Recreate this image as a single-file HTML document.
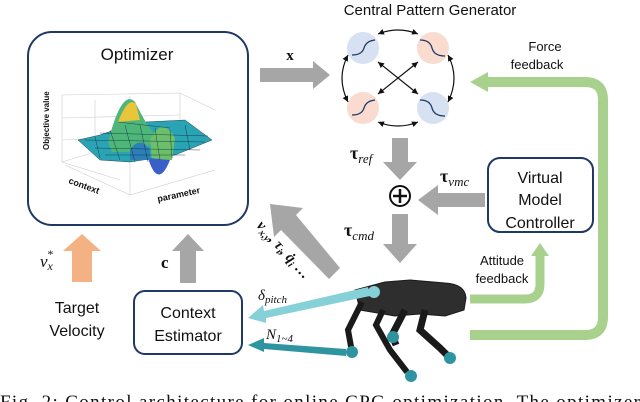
<!DOCTYPE html>
<html><head><meta charset="utf-8"><style>
html,body{margin:0;padding:0;background:#fff;}
svg{display:block;}
.s{font-family:"Liberation Sans","DejaVu Sans",sans-serif;fill:#111;}
.m{font-family:"Liberation Serif",serif;font-style:italic;fill:#111;}
.b{font-family:"Liberation Serif",serif;font-weight:bold;fill:#111;}
</style></head><body>
<svg width="640" height="402" viewBox="0 0 640 402" xmlns="http://www.w3.org/2000/svg">
<defs>
<marker id="ah" markerWidth="8" markerHeight="8" refX="6" refY="3" orient="auto-start-reverse" markerUnits="userSpaceOnUse"><path d="M0,0 L6,3 L0,6 z" fill="#111"/></marker>
</defs>
<!-- Optimizer box -->
<rect x="28" y="32" width="220" height="193" rx="24" fill="#fff" stroke="#1f3864" stroke-width="2"/>
<text x="137" y="60" class="s" font-size="17" text-anchor="middle">Optimizer</text>
<!-- plot -->
<g stroke="#ccc" stroke-width="0.6" fill="none">
<path d="M62,95 L180,93 L215,110 M62,95 L62,162 L120,180 M180,93 L180,150 M62,162 L95,152"/>
<path d="M95,100 L95,155 M130,96 L130,150 M62,118 L180,115 M62,140 L180,135"/>
<path d="M65,165 L130,195 L215,170 M130,195 L130,150"/>
</g>
<polygon points="78,140 100,135 120,128 145,122 185,120 212,140 175,155 130,162 100,160" fill="#2aa4b4" stroke="#123" stroke-width="0.4"/>
<path d="M108,142 Q122,88 135,102 Q148,128 155,135 L145,152 L112,152 z" fill="#4fb67a"/>
<path d="M118,122 Q128,96 136,104 L140,120 z" fill="#e8c53a"/>
<path d="M150,140 Q162,115 175,138 L172,160 L152,160 z" fill="#6cbf6a"/>
<path d="M148,158 Q158,190 170,160 z" fill="#3a5fc8"/>
<path d="M130,150 Q140,135 150,150 L150,160 L130,160z" fill="#2d7fb8"/>
<g stroke="#0c2a33" stroke-width="0.4">
<path d="M85,140 L205,142 M95,148 L200,150 M105,155 L185,155 M118,122 L170,128 M100,133 L208,136"/>
<path d="M110,130 L120,160 M125,125 L135,162 M140,125 L148,162 M155,128 L160,160 M170,130 L172,158 M185,125 L190,150 M95,137 L100,158"/>
</g>
<text transform="translate(49,150) rotate(-90)" class="s" font-size="8" font-weight="bold">Objective value</text>
<text transform="translate(68,183) rotate(20)" class="s" font-size="9" font-weight="bold">context</text>
<text transform="translate(158,202) rotate(-12)" class="s" font-size="9" font-weight="bold">parameter</text>
<!-- x arrow -->
<polygon points="260,68 313,68 313,61 330,75 313,89 313,82 260,82" fill="#a6a6a6"/>
<text x="290" y="60" class="b" font-size="15" text-anchor="middle">x</text>
<!-- CPG -->
<text x="430" y="15" class="s" font-size="15" text-anchor="middle">Central Pattern Generator</text>
<circle cx="363" cy="48" r="16" fill="#d7e1f1"/>
<circle cx="433" cy="48" r="16" fill="#f9dccf"/>
<circle cx="363" cy="108" r="16" fill="#f9dccf"/>
<circle cx="433" cy="108" r="16" fill="#d7e1f1"/>
<g fill="none" stroke="#1f3864" stroke-width="1.3">
<path d="M352,55 Q362,55 364,48 Q366,41 375,40"/>
<path d="M420,40 Q430,40 432,48 Q434,56 445,56"/>
<path d="M352,115 Q362,115 364,108 Q366,101 375,100"/>
<path d="M420,100 Q430,100 432,108 Q434,116 445,116"/>
</g>
<g fill="none" stroke="#111" stroke-width="1.2" marker-start="url(#ah)" marker-end="url(#ah)">
<path d="M378,34 Q398,26 418,34"/>
<path d="M378,122 Q398,130 418,122"/>
<path d="M348,55 Q336,78 348,102"/>
<path d="M448,55 Q460,78 448,102"/>
<path d="M378,62 L418,94"/>
<path d="M418,62 L378,94"/>
</g>
<!-- tau ref -->
<polygon points="392,138 408,138 408,162 417,162 400,180 383,162 392,162" fill="#a6a6a6"/>
<text x="350" y="159" class="m" font-size="18"><tspan font-weight="bold" font-style="normal">τ</tspan><tspan font-size="13" dy="4">ref</tspan></text>
<!-- plus -->
<circle cx="400" cy="196" r="10" fill="#fff" stroke="#111" stroke-width="2"/>
<path d="M393,196 L407,196 M400,189 L400,203" stroke="#111" stroke-width="2.5"/>
<!-- tau vmc -->
<polygon points="485,193 438,193 438,185 418,200 438,215 438,207 485,207" fill="#a6a6a6"/>
<text x="440" y="182" class="m" font-size="18"><tspan font-weight="bold" font-style="normal">τ</tspan><tspan font-size="13" dy="4">vmc</tspan></text>
<!-- VMC box -->
<rect x="488" y="158" width="105" height="74" rx="12" fill="#fff" stroke="#1f3864" stroke-width="2"/>
<text x="540" y="183" class="s" font-size="16" text-anchor="middle">Virtual</text>
<text x="540" y="205" class="s" font-size="16" text-anchor="middle">Model</text>
<text x="540" y="228" class="s" font-size="16" text-anchor="middle">Controller</text>
<!-- tau cmd -->
<polygon points="392,214 408,214 408,244 417,244 400,263 383,244 392,244" fill="#a6a6a6"/>
<text x="344" y="236" class="m" font-size="18"><tspan font-weight="bold" font-style="normal">τ</tspan><tspan font-size="13" dy="4">cmd</tspan></text>
<!-- diagonal gray arrow -->
<polygon points="340,268 329,279 281,230 274,237 270,204 303,208 296,215" fill="#a6a6a6"/>
<text transform="translate(256,226) rotate(48)" class="m" font-size="15" font-weight="bold">v<tspan font-size="10" dy="3">x,y</tspan><tspan dy="-3">, τ</tspan><tspan font-size="10" dy="3">i</tspan><tspan dy="-3">, q̇</tspan><tspan font-size="10" dy="3">i</tspan><tspan dy="-3"> …</tspan></text>
<!-- green feedbacks -->
<path d="M470,299 L525,299 Q540,299 540,284 L540,255" fill="none" stroke="#a9d18e" stroke-width="9"/>
<polygon points="531,256 549,256 540,243" fill="#a9d18e"/>
<path d="M470,335 L585,335 Q603,335 603,317 L603,100 Q603,82 585,82 L485,82" fill="none" stroke="#a9d18e" stroke-width="10"/>
<polygon points="488,72 488,92 470,82" fill="#a9d18e"/>
<text x="545" y="51" class="s" font-size="13" text-anchor="middle">Force</text>
<text x="537" y="69" class="s" font-size="13" text-anchor="middle">feedback</text>
<text x="502" y="265" class="s" font-size="13" text-anchor="middle">Attitude</text>
<text x="502" y="283" class="s" font-size="13" text-anchor="middle">feedback</text>
<!-- robot -->
<g fill="#2e2e2e" stroke="#1a1a1a">
<path d="M355,290 L385,282 L410,280 L445,283 Q465,284 466,298 L464,310 L445,316 L420,314 L395,316 L360,310 z"/>
<path d="M362,302 L348,330 L352,352" fill="none" stroke-width="6"/>
<path d="M383,310 L376,325 L390,350 L407,372" fill="none" stroke-width="6"/>
<path d="M405,310 L392,335 L396,345" fill="none" stroke-width="7"/>
<path d="M425,310 L420,330 L440,348 L450,358" fill="none" stroke-width="7"/>
</g>
<!-- teal arrows -->
<polygon points="368,287 264,311 263,305 248,318 266,323 266,318 370,296" fill="#86d0d8"/>
<polygon points="346,349 264,343 264,338 248,345 264,352 264,349 346,356" fill="#2e95a0"/>
<circle cx="374" cy="292" r="6" fill="#86d0d8"/>
<circle cx="352" cy="352" r="6" fill="#2e95a0"/>
<circle cx="393" cy="337" r="6" fill="#2e95a0"/>
<circle cx="411" cy="376" r="6" fill="#2e95a0"/>
<circle cx="450" cy="358" r="6" fill="#2e95a0"/>
<text x="258" y="300" class="m" font-size="15">δ<tspan font-size="11" dy="3">pitch</tspan></text>
<text x="266" y="339" class="m" font-size="15">N<tspan font-size="11" dy="3">1~4</tspan></text>
<!-- bottom left -->
<polygon points="72,282 92,282 92,251 101,251 82,234 63,251 72,251" fill="#f4b183"/>
<text x="40" y="267" class="m" font-size="17">v<tspan font-size="12" dy="3">x</tspan><tspan font-size="12" dy="-12" dx="-6">*</tspan></text>
<polygon points="180,283 196,283 196,251 204,251 188,234 172,251 180,251" fill="#a6a6a6"/>
<text x="161" y="268" class="b" font-size="17">c</text>
<text x="77" y="313" class="s" font-size="16" text-anchor="middle">Target</text>
<text x="77" y="336" class="s" font-size="16" text-anchor="middle">Velocity</text>
<rect x="134" y="291" width="108" height="63" rx="11" fill="#fff" stroke="#1f3864" stroke-width="2"/>
<text x="188" y="318" class="s" font-size="16" text-anchor="middle">Context</text>
<text x="188" y="341" class="s" font-size="16" text-anchor="middle">Estimator</text>
<!-- caption -->
<text x="0" y="408" font-family="Liberation Serif,serif" font-size="19" fill="#111" textLength="640" lengthAdjust="spacing">Fig. 2: Control architecture for online CPG optimization. The optimizer</text>
</svg>
</body></html>
